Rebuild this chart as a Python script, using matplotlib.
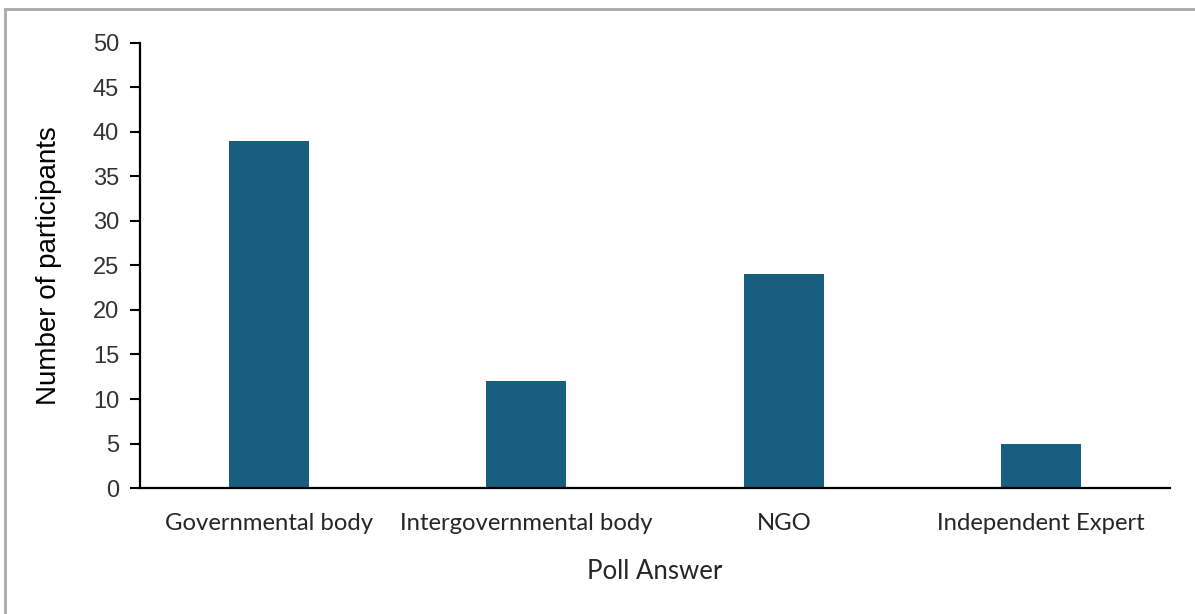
import matplotlib.pyplot as plt
from matplotlib.lines import Line2D

# poll results
answers = ["Governmental body", "Intergovernmental body", "NGO", "Independent Expert"]
participants = [39, 12, 24, 5]
y_ticks = [0, 5, 10, 15, 20, 25, 30, 35, 40, 45, 50]

bar_color = "#175e7f"

fig = plt.figure(figsize=(11.95, 6.14), dpi=100)
ax = fig.add_axes([0.1172, 0.2052, 0.8619, 0.7248])

ax.bar(range(len(answers)), participants, width=0.31, color=bar_color)

ax.set_xlim(-0.5, len(answers) - 0.5)
ax.set_ylim(0, 50)
ax.set_yticks(y_ticks)
ax.set_xticks(range(len(answers)))
ax.set_xticklabels(answers, fontfamily="Lato", fontsize=17.2, color="#262626")
ax.tick_params(axis="x", length=0, pad=18)
ax.tick_params(axis="y", length=7, width=1.5, pad=8, labelsize=17, labelcolor="#333333")
for lbl in ax.get_yticklabels():
    lbl.set_fontfamily("Liberation Sans")

for side in ["top", "right"]:
    ax.spines[side].set_visible(False)
for side in ["left", "bottom"]:
    ax.spines[side].set_linewidth(1.6)
ax.spines["bottom"].set_bounds(-0.5, 3.5)

ax.set_ylabel("Number of participants", fontfamily="Liberation Sans", fontsize=20, labelpad=22)
ax.set_xlabel("Poll Answer", fontfamily="Lato", fontsize=18.5, labelpad=18, color="#262626")

# grey frame along the top and left edges
fig.add_artist(Line2D([5 / 1195, 1], [1 - 9 / 614, 1 - 9 / 614], color="#a9a9a9", lw=2,
                      transform=fig.transFigure))
fig.add_artist(Line2D([5 / 1195, 5 / 1195], [0, 1 - 9 / 614], color="#a9a9a9", lw=2,
                      transform=fig.transFigure))

plt.savefig("out.png", dpi=100)
